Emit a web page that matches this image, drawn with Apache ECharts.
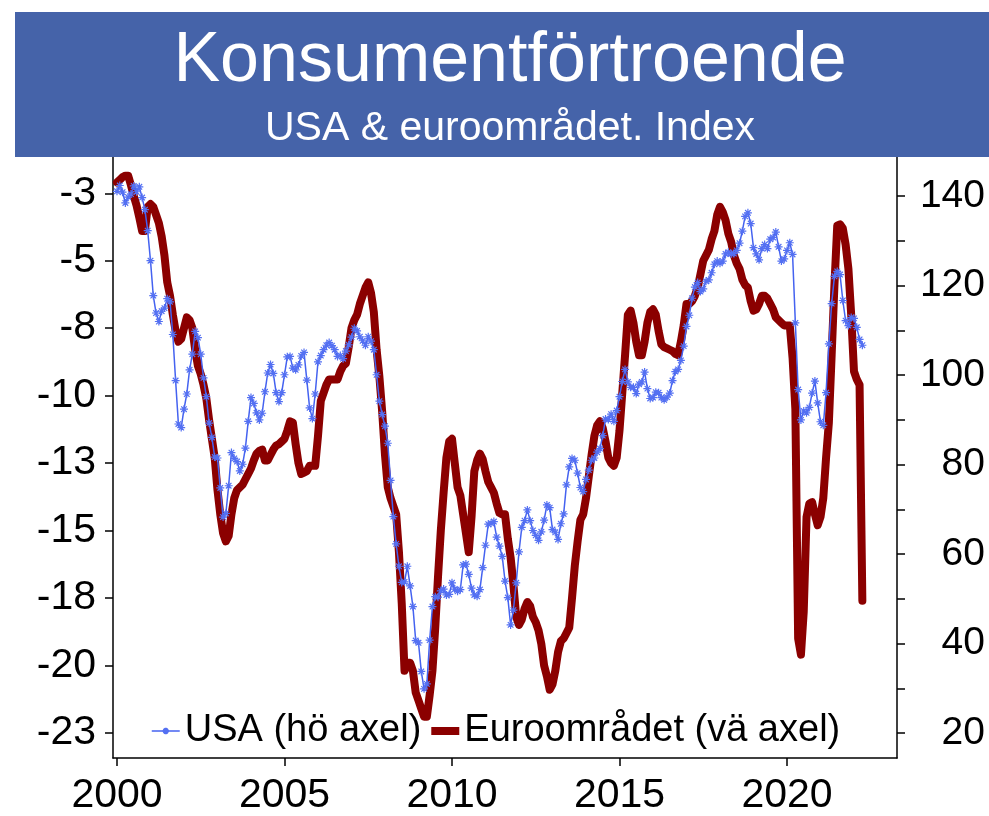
<!DOCTYPE html>
<html>
<head>
<meta charset="utf-8">
<script src="https://cdn.jsdelivr.net/npm/echarts@6/dist/echarts.min.js"></script>
<style>
html, body { margin: 0; padding: 0; background: #fff; }
#chart { width: 989px; height: 816px; }
</style>
</head>
<body>
<div id="chart"></div>
<script>
// monthly values, first point = Jan 2000
const startYear = 2000

// USA (hö axel), one row per year
const usa = [
    141.1, 142.4, 140.9, 138.5, 139.8, 140.5, 142.3, 141.0, 142.1, 139.7, 137.0, 132.3,
    125.6, 117.8, 113.9, 112.0, 114.3, 115.0, 117.1, 116.4, 109.1, 98.8, 89.1, 88.3,
    92.4, 95.8, 101.2, 104.7, 109.8, 108.4, 104.7, 99.4, 95.2, 89.3, 86.1, 81.7,
    81.5, 74.8, 68.3, 69.1, 75.3, 82.7, 81.4, 80.7, 78.6, 80.1, 83.7, 89.7,
    95.0, 93.7, 91.6, 90.0, 91.5, 96.3, 100.5, 102.4, 100.4, 96.1, 94.1, 96.1,
    100.1, 104.1, 104.2, 101.6, 101.2, 102.3, 104.3, 105.1, 98.9, 92.7, 90.3, 95.8,
    103.0, 104.4, 105.7, 106.7, 107.3, 106.6, 105.7, 104.2, 104.4, 103.7, 105.4, 106.8,
    108.5, 110.5, 109.9, 108.6, 107.7, 106.7, 108.6, 107.6, 105.7, 100.1, 94.2, 91.2,
    88.6, 84.8, 76.5, 68.4, 62.3, 57.3, 53.7, 53.8, 57.3, 52.9, 48.3, 40.7,
    40.2, 33.8, 29.9, 31.0, 40.8, 48.3, 50.5, 50.4, 51.8, 52.2, 50.9, 51.0,
    53.6, 52.2, 51.7, 52.1, 57.6, 57.8, 55.5, 52.4, 50.9, 50.6, 52.1, 57.0,
    62.0, 66.7, 66.9, 67.3, 63.8, 61.8, 59.5, 54.0, 50.3, 44.2, 47.5, 53.6,
    60.5, 66.0, 67.5, 69.9, 67.5, 65.3, 64.2, 63.1, 65.0, 67.6, 71.0, 70.4,
    65.5, 64.9, 63.3, 66.8, 69.0, 75.5, 79.5, 81.4, 81.0, 78.1, 74.9, 74.0,
    76.7, 78.8, 81.0, 81.5, 82.8, 83.6, 86.5, 90.2, 90.1, 91.3, 89.7, 92.1,
    95.2, 98.6, 101.3, 98.5, 97.3, 97.3, 95.9, 98.0, 98.5, 100.7, 97.0, 94.8,
    95.0, 96.2, 96.1, 95.0, 94.5, 95.1, 96.0, 98.8, 100.8, 101.3, 103.3, 106.5,
    110.9, 113.4, 117.2, 119.7, 120.7, 118.7, 119.3, 121.0, 121.3, 122.9, 124.8, 125.5,
    125.0, 125.5, 127.1, 127.5, 127.1, 127.2, 127.9, 129.5, 132.2, 135.5, 136.3, 133.9,
    128.5, 127.1, 125.8, 128.3, 129.2, 128.3, 130.4, 130.8, 132.0, 128.7, 125.5, 126.0,
    127.9, 129.6, 127.0, 111.7, 96.8, 90.0, 92.0, 91.6, 92.8, 96.0, 98.7, 93.8,
    89.6, 88.8, 96.1, 107.0, 116.0, 122.1, 123.2, 122.5, 116.7, 112.2, 111.1, 112.9,
    112.7, 110.7, 108.0, 106.7
]

// Euroområdet (vä axel)
const euro = [
    -2.1, -2.0, -1.9, -1.85, -1.85, -2.2, -2.6, -2.95, -3.4, -3.9, -3.9, -3.0,
    -2.9, -3.0, -3.3, -3.6, -4.1, -4.8, -5.8, -6.3, -7.0, -7.6, -8.0, -7.9,
    -7.5, -7.1, -7.2, -7.5, -8.3, -8.9, -9.2, -9.6, -10.1, -10.9, -11.6, -12.3,
    -13.5, -14.4, -15.1, -15.4, -15.2, -14.4, -13.8, -13.5, -13.4, -13.3, -13.1, -12.9,
    -12.7, -12.4, -12.15, -12.05, -12.0, -12.4, -12.4, -12.2, -12.0, -11.85, -11.8, -11.7,
    -11.6, -11.3, -10.95, -11.0, -11.8, -12.5, -12.9, -12.85, -12.8, -12.6, -12.6, -12.6,
    -11.5, -10.2, -9.9, -9.6, -9.4, -9.4, -9.4, -9.4, -9.1, -8.9, -8.8, -8.2,
    -7.5, -7.2, -7.0, -6.6, -6.3, -6.0, -5.8, -6.2, -6.9, -8.3, -9.3, -10.6,
    -12.2, -13.4, -13.8, -14.1, -14.4, -15.8, -17.7, -20.2, -19.9, -19.9, -20.2, -21.0,
    -21.3, -21.6, -21.9, -21.9, -21.1, -20.2, -18.6, -16.7, -15.0, -13.6, -12.3, -11.7,
    -11.6, -12.5, -13.4, -13.7, -14.4, -15.1, -15.8, -14.5, -12.8, -12.4, -12.15, -12.35,
    -12.8, -13.2, -13.4, -13.6, -14.0, -14.35, -14.4, -14.4, -15.3, -16.0, -17.0, -18.2,
    -18.5, -18.3, -17.9, -17.65, -17.8, -18.2, -18.4, -18.7, -19.2, -20.0, -20.4, -20.9,
    -20.7, -20.2, -19.5, -19.1, -19.0, -18.8, -18.6, -17.5, -16.3, -15.4, -14.6, -14.4,
    -13.8, -13.0, -12.2, -11.5, -11.1, -10.95, -11.2, -11.7, -12.3, -12.5, -12.6, -12.3,
    -11.3, -9.9, -8.5, -7.0, -6.85, -7.3, -8.0, -8.5, -8.5, -8.0, -7.3, -6.9,
    -6.8, -7.0, -7.6, -8.1, -8.2, -8.25, -8.3, -8.35, -8.45, -8.5, -8.0, -7.4,
    -6.6, -6.6, -6.5, -6.3, -6.0, -5.5, -5.0, -4.8, -4.6, -4.2, -3.9, -3.3,
    -3.0, -3.2, -3.5, -4.0, -4.3, -4.8, -5.1, -5.3, -5.7, -5.9, -6.0, -6.5,
    -6.85, -6.8, -6.6, -6.3, -6.3, -6.4, -6.6, -6.8, -7.1, -7.2, -7.3, -7.4,
    -7.4, -7.4, -8.6, -10.5, -19.0, -19.6, -18.0, -14.5, -14.0, -13.95, -14.4, -14.8,
    -14.5, -13.8, -12.3, -11.0, -8.5, -5.9, -3.7, -3.65, -3.8, -4.4, -5.3, -7.0,
    -9.1, -9.4, -9.6, -17.6
]

const yearTicks = [2000, 2005, 2010, 2015, 2020]
const leftTicks = [-22.5, -20, -17.5, -15, -12.5, -10, -7.5, -5, -2.5]
const rightLabels = [20, 40, 60, 80, 100, 120, 140]
const rightTicks = [20, 30, 40, 50, 60, 70, 80, 90, 100, 110, 120, 130, 140]

const font = '"Liberation Sans", Arial, sans-serif'
const usaName = 'USA (hö axel)'
const euroName = 'Euroområdet (vä axel)'
const star = 'path://M5,0L5,10M0,5L10,5M1.5,1.5L8.5,8.5M1.5,8.5L8.5,1.5'

const toPairs = arr => arr.map((v, i) => [startYear + i / 12, v])

const axisLine = { show: true, onZero: false, lineStyle: { color: '#000', width: 1.5 } }
const tickStyle = { color: '#000', width: 1.5 }

const chart = echarts.init(document.getElementById('chart'))

chart.setOption({
    animation: false,
    backgroundColor: '#fff',
    textStyle: { fontFamily: font },
    grid: { left: 113, right: 92, top: 157, bottom: 54, containLabel: false },
    graphic: [
        { type: 'rect', left: 15, top: 12, z: 100,
          shape: { width: 974, height: 145 }, style: { fill: '#4563a9' } },
        { type: 'text', x: 510, y: 62, z: 101,
          style: { text: 'Konsumentförtroende', fill: '#fff', font: '70px ' + font,
                   align: 'center', verticalAlign: 'middle' } },
        { type: 'text', x: 510, y: 129, z: 101,
          style: { text: 'USA & euroområdet. Index', fill: '#fff', font: '41px ' + font,
                   align: 'center', verticalAlign: 'middle' } }
    ],
    legend: {
        left: 151,
        top: 711,
        padding: 0,
        itemWidth: 28,
        itemHeight: 8,
        itemGap: 10,
        data: [
            { name: usaName },
            { name: euroName, icon: 'path://M0,0L28,0L28,8L0,8Z' }
        ],
        textStyle: { fontSize: 38, color: '#000', fontFamily: font, lineHeight: 40 },
        lineStyle: { width: 'inherit' }
    },
    xAxis: {
        type: 'value',
        min: 1999.881,
        max: 2023.284,
        axisLine: axisLine,
        splitLine: { show: false },
        axisTick: { show: true, customValues: yearTicks, length: 8, lineStyle: tickStyle },
        axisLabel: { customValues: yearTicks, fontSize: 41, color: '#000', margin: 17,
                     formatter: v => String(v) }
    },
    yAxis: [
        {
            type: 'value',
            position: 'left',
            min: -23.43,
            max: -1.156,
            axisLine: axisLine,
            splitLine: { show: false },
            axisTick: { show: true, customValues: leftTicks, length: 8, lineStyle: tickStyle },
            axisLabel: { customValues: leftTicks, fontSize: 41, color: '#000', margin: 17,
                         formatter: v => String(-Math.round(-v)) }
        },
        {
            type: 'value',
            position: 'right',
            min: 14.45,
            max: 148.77,
            alignTicks: false,
            axisLine: axisLine,
            splitLine: { show: false },
            axisTick: { show: true, customValues: rightTicks, length: 8, lineStyle: tickStyle },
            axisLabel: { customValues: rightLabels, fontSize: 39, color: '#000', margin: 88,
                         align: 'right', formatter: v => String(v) }
        }
    ],
    series: [
        {
            name: euroName,
            type: 'line',
            yAxisIndex: 0,
            data: toPairs(euro),
            symbol: 'none',
            lineStyle: { color: '#8b0000', width: 8, join: 'round', cap: 'round' },
            itemStyle: { color: '#8b0000' },
            z: 2
        },
        {
            name: usaName,
            type: 'line',
            yAxisIndex: 1,
            data: toPairs(usa),
            symbol: star,
            symbolSize: 8,
            showAllSymbol: true,
            lineStyle: { color: '#4462f0', width: 1.5 },
            itemStyle: { color: '#4462f0', borderColor: '#5470f2', borderWidth: 1.2 },
            z: 3
        }
    ]
})
</script>
</body>
</html>
